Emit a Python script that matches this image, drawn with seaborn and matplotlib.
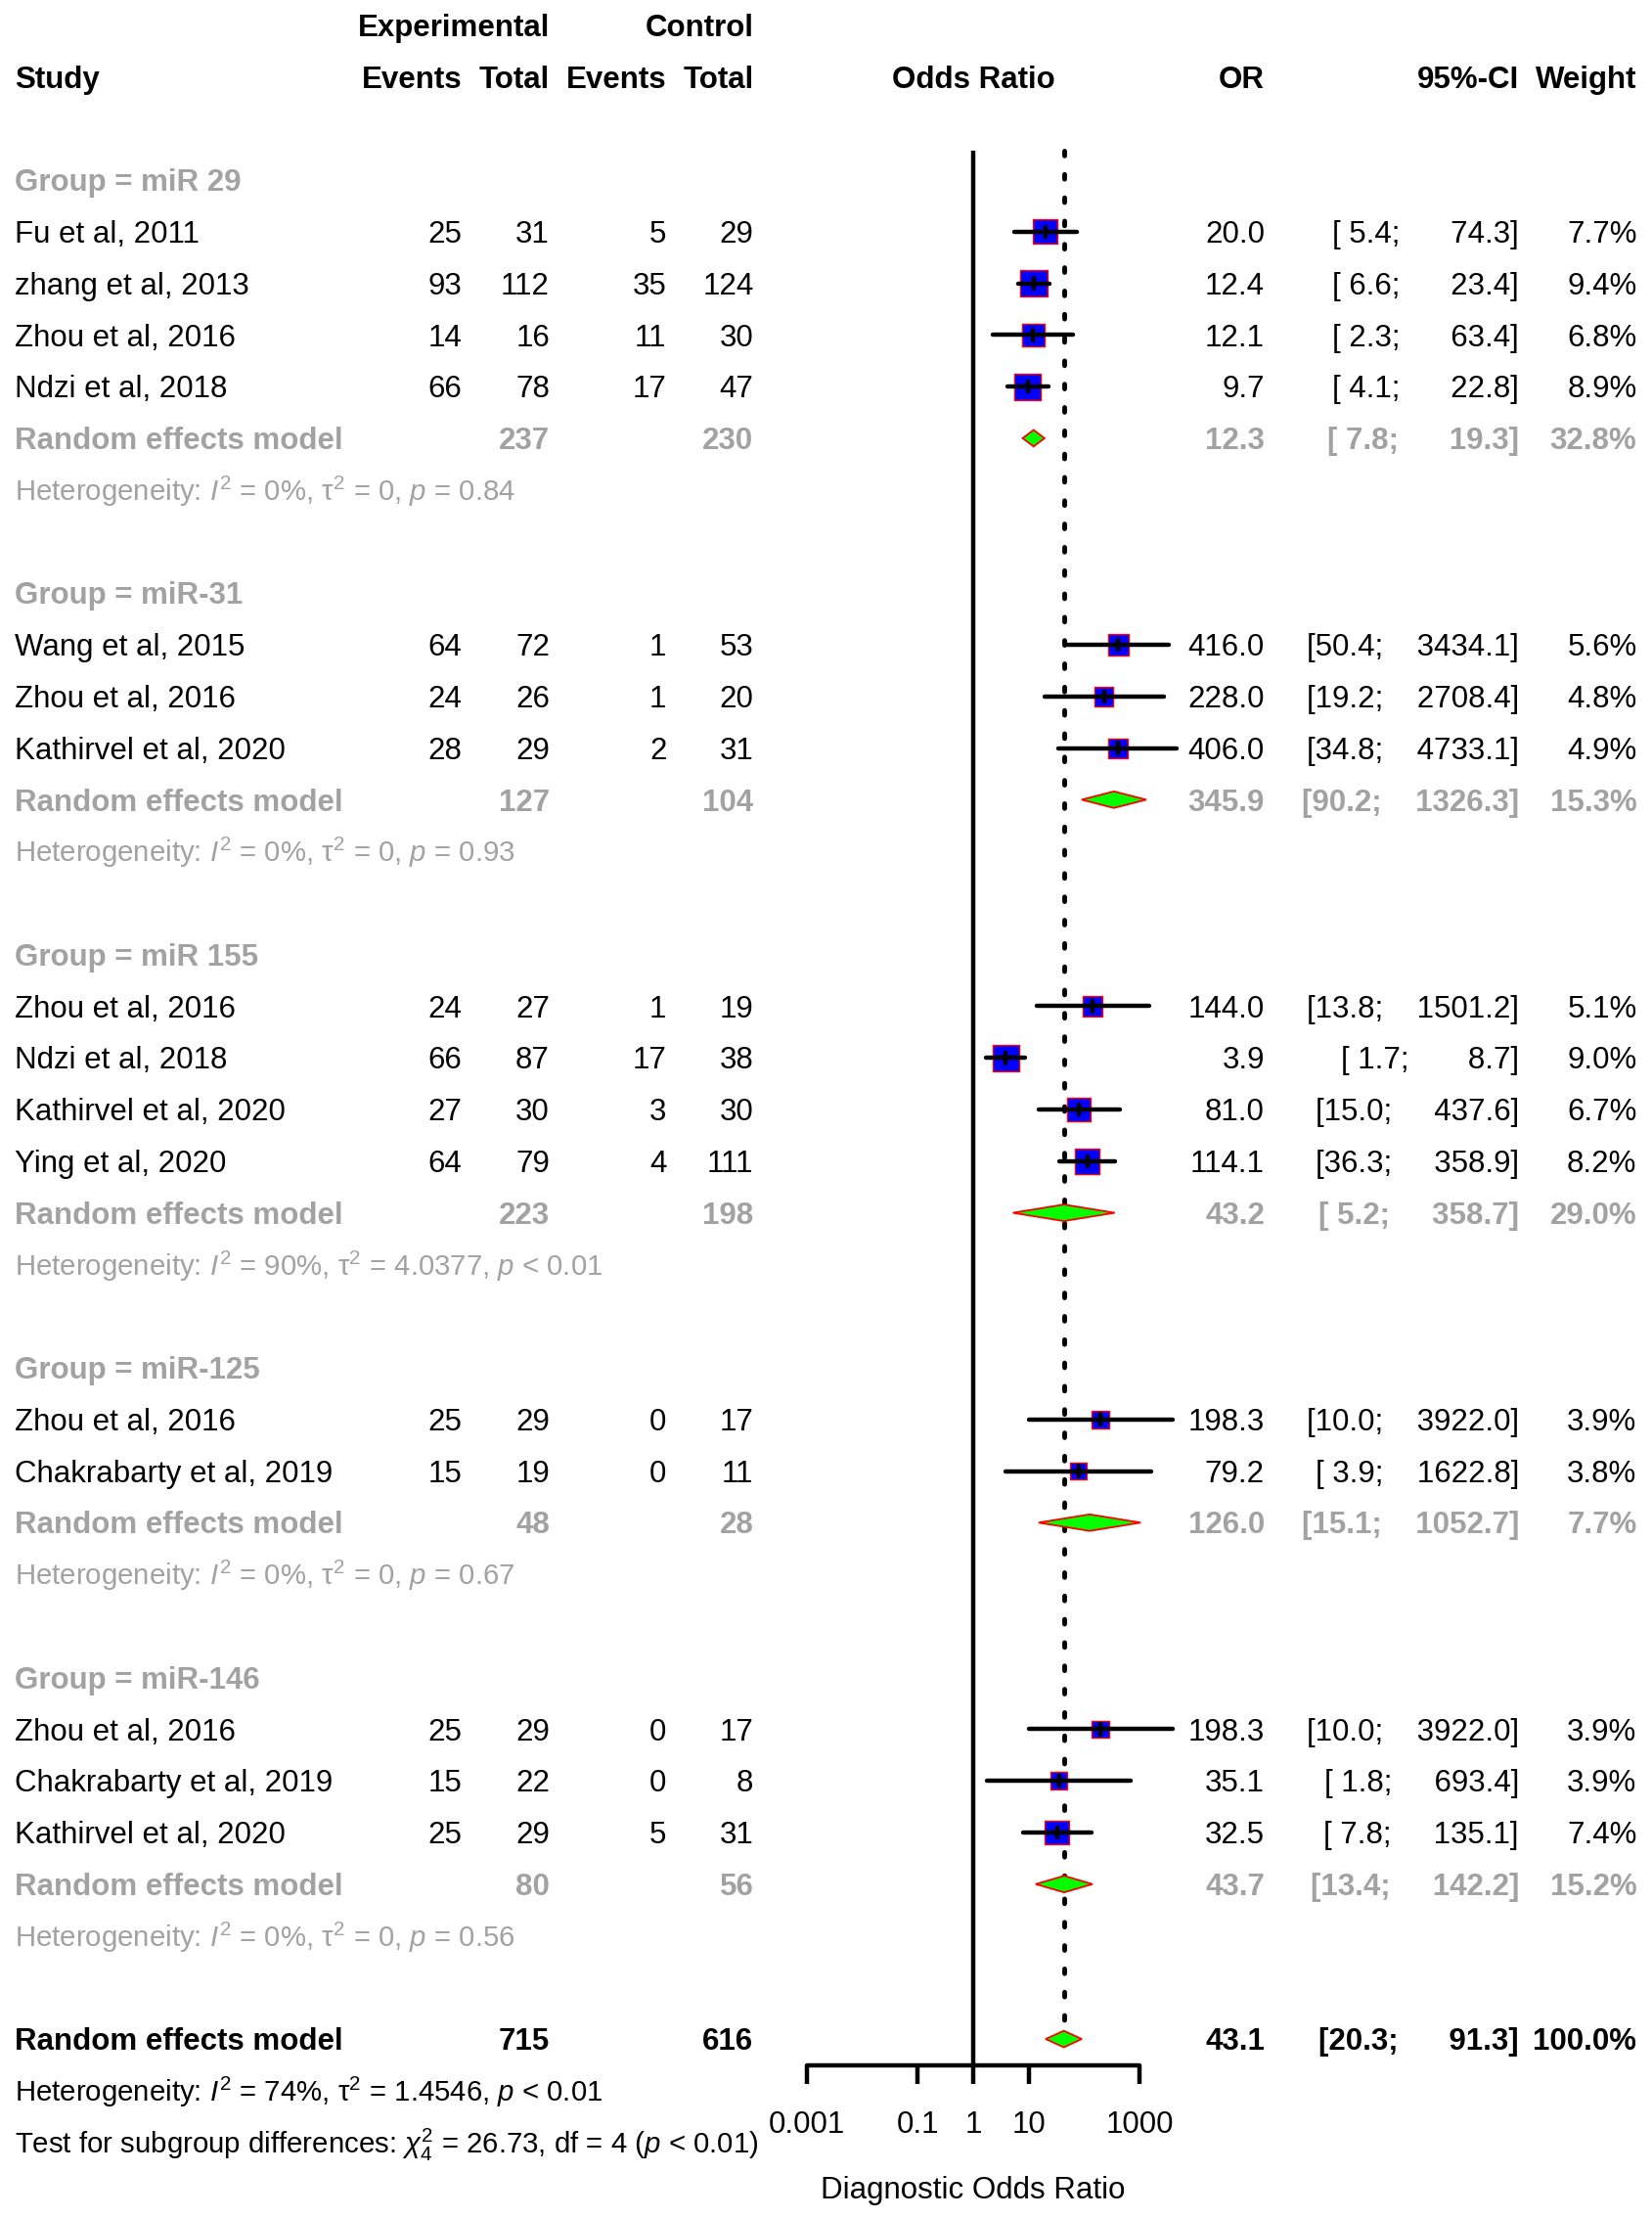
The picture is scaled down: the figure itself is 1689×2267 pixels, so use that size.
import numpy as np
import pandas as pd
import matplotlib
matplotlib.use('Agg')
from matplotlib import pyplot as plt
from matplotlib.ticker import NullLocator
import seaborn as sns

sns.set_style('white')
plt.rcParams['font.family'] = ['Liberation Sans', 'DejaVu Sans']
plt.rcParams['mathtext.fontset'] = 'custom'
plt.rcParams['mathtext.rm'] = 'Liberation Sans'
plt.rcParams['mathtext.it'] = 'Liberation Sans:italic'
plt.rcParams['mathtext.bf'] = 'Liberation Sans:bold'
plt.rcParams['text.color'] = 'black'
plt.rcParams['xtick.color'] = 'black'
plt.rcParams['axes.edgecolor'] = 'black'

# ---- data -------------------------------------------------------------
groups = ['miR 29', 'miR-31', 'miR 155', 'miR-125', 'miR-146']

study = ['Fu et al, 2011', 'zhang et al, 2013', 'Zhou et al, 2016', 'Ndzi et al, 2018',
         'Wang et al, 2015', 'Zhou et al, 2016', 'Kathirvel et al, 2020',
         'Zhou et al, 2016', 'Ndzi et al, 2018', 'Kathirvel et al, 2020', 'Ying et al, 2020',
         'Zhou et al, 2016', 'Chakrabarty et al, 2019',
         'Zhou et al, 2016', 'Chakrabarty et al, 2019', 'Kathirvel et al, 2020']
study_group = [0, 0, 0, 0, 1, 1, 1, 2, 2, 2, 2, 3, 3, 4, 4, 4]
exp_events = [25, 93, 14, 66, 64, 24, 28, 24, 66, 27, 64, 25, 15, 25, 15, 25]
exp_total = [31, 112, 16, 78, 72, 26, 29, 27, 87, 30, 79, 29, 19, 29, 22, 29]
ctrl_events = [5, 35, 11, 17, 1, 1, 2, 1, 17, 3, 4, 0, 0, 0, 0, 5]
ctrl_total = [29, 124, 30, 47, 53, 20, 31, 19, 38, 30, 111, 17, 11, 17, 8, 31]
odds_ratio = [20.0, 12.4, 12.1, 9.7, 416.0, 228.0, 406.0, 144.0, 3.9, 81.0, 114.1,
              198.3, 79.2, 198.3, 35.1, 32.5]
ci_lower = [5.4, 6.6, 2.3, 4.1, 50.4, 19.2, 34.8, 13.8, 1.7, 15.0, 36.3,
            10.0, 3.9, 10.0, 1.8, 7.8]
ci_upper = [74.3, 23.4, 63.4, 22.8, 3434.1, 2708.4, 4733.1, 1501.2, 8.7, 437.6, 358.9,
            3922.0, 1622.8, 3922.0, 693.4, 135.1]
weight = [7.7, 9.4, 6.8, 8.9, 5.6, 4.8, 4.9, 5.1, 9.0, 6.7, 8.2, 3.9, 3.8, 3.9, 3.9, 7.4]

grp_exp_total = [237, 127, 223, 48, 80]
grp_ctrl_total = [230, 104, 198, 28, 56]
grp_or = [12.3, 345.9, 43.2, 126.0, 43.7]
grp_lower = [7.8, 90.2, 5.2, 15.1, 13.4]
grp_upper = [19.3, 1326.3, 358.7, 1052.7, 142.2]
grp_weight = [32.8, 15.3, 29.0, 7.7, 15.2]
grp_i2 = ['0', '0', '90', '0', '0']
grp_tau2 = ['0', '0', '4.0377', '0', '0']
grp_p = ['= 0.84', '= 0.93', '< 0.01', '= 0.67', '= 0.56']

all_exp_total = 715
all_ctrl_total = 616
all_or, all_lower, all_upper, all_weight = 43.1, 20.3, 91.3, 100.0
all_i2, all_tau2, all_p = '74', '1.4546', '< 0.01'
subgroup_test = r'Test for subgroup differences: $\chi^2_4$ = 26.73, df = 4 ($p$ < 0.01)'

x_ticks = [0.001, 0.1, 1, 10, 1000]
x_ticklabels = ['0.001', '0.1', '1', '10', '1000']

# ---- row layout -------------------------------------------------------
row_group, row_study, row_summary, row_het = [], [], [], []
r = 0
for g in range(len(groups)):
    row_group.append(r)
    r += 1
    for sg in study_group:
        if sg == g:
            row_study.append(r)
            r += 1
    row_summary.append(r)
    row_het.append(r + 1)
    r += 3
row_overall = r

df = pd.DataFrame({'study': study, 'row': row_study, 'OR': odds_ratio,
                   'lower': ci_lower, 'upper': ci_upper, 'weight': weight})

# ---- figure geometry (pixels) ----------------------------------------
W, H = 1689, 2267
ROW0, STEP = 184.0, 52.78
y_top = -ROW0 / STEP
y_bot = (H - ROW0) / STEP
BASE = 0.212          # baseline offset (rows) so that digits are centred on row
FS = 22.5
FS_MATH = 21.2        # mathtext lays out a little wider, shrink to match
GRAY = '#A2A2A2'
LW = 3.2

X_STUDY, X_EE, X_ET, X_CE, X_CT = 15, 472.5, 562, 681.5, 770.5
X_OR, X_CI, X_W = 1293, 1553, 1673.5
PX_LO, PX_HI = 825, 1165   # pixel positions of 0.001 and 1000

fig = plt.figure(figsize=(W / 100, H / 100), dpi=100)
ax_t = fig.add_axes([0, 0, 1, 1])
ax_t.set_xlim(0, W)
ax_t.set_ylim(y_bot, y_top)
ax_t.axis('off')

ax_f = fig.add_axes([PX_LO / W, 0, (PX_HI - PX_LO) / W, 1])
ax_f.set_facecolor('none')


def put(x, row, s, ha='right', bold=False, color='black', size=FS):
    ax_t.text(x, row + BASE, s, ha=ha, va='baseline', fontsize=size,
              fontweight='bold' if bold else 'normal', color=color)


def ci_text(lo, hi):
    return f'[{lo:4.1f};    {hi:6.1f}]'


def het_text(i2, tau2, p):
    return rf'Heterogeneity: $I^2$ = {i2}%, $\mathrm{{\tau}}^2$ = {tau2}, $p$ {p}'


# header
put(X_ET, -3, 'Experimental', bold=True)
put(X_CT, -3, 'Control', bold=True)
put(X_STUDY, -2, 'Study', ha='left', bold=True)
for x, s in zip([X_EE, X_ET, X_CE, X_CT], ['Events', 'Total', 'Events', 'Total']):
    put(x, -2, s, bold=True)
put(X_OR, -2, 'OR', bold=True)
put(X_CI, -2, '95%-CI', bold=True)
put(X_W, -2, 'Weight', bold=True)
ax_f.text(1, -2 + BASE, 'Odds Ratio', ha='center', va='baseline', fontsize=FS,
          fontweight='bold')

# studies
for i in range(len(study)):
    rr = row_study[i]
    put(X_STUDY, rr, study[i], ha='left')
    put(X_EE, rr, str(exp_events[i]))
    put(X_ET, rr, str(exp_total[i]))
    put(X_CE, rr, str(ctrl_events[i]))
    put(X_CT, rr, str(ctrl_total[i]))
    put(X_OR, rr, f'{odds_ratio[i]:.1f}')
    put(X_CI, rr, ci_text(ci_lower[i], ci_upper[i]))
    put(X_W, rr, f'{weight[i]:.1f}%')

# subgroups
for g in range(len(groups)):
    put(X_STUDY, row_group[g], f'Group = {groups[g]}', ha='left', bold=True, color=GRAY)
    rs = row_summary[g]
    put(X_STUDY, rs, 'Random effects model', ha='left', bold=True, color=GRAY)
    put(X_ET, rs, str(grp_exp_total[g]), bold=True, color=GRAY)
    put(X_CT, rs, str(grp_ctrl_total[g]), bold=True, color=GRAY)
    put(X_OR, rs, f'{grp_or[g]:.1f}', bold=True, color=GRAY)
    put(X_CI, rs, ci_text(grp_lower[g], grp_upper[g]), bold=True, color=GRAY)
    put(X_W, rs, f'{grp_weight[g]:.1f}%', bold=True, color=GRAY)
    put(X_STUDY, row_het[g], het_text(grp_i2[g], grp_tau2[g], grp_p[g]),
        ha='left', color=GRAY, size=FS_MATH)

# overall
put(X_STUDY, row_overall, 'Random effects model', ha='left', bold=True)
put(X_ET, row_overall, str(all_exp_total), bold=True)
put(X_CT, row_overall, str(all_ctrl_total), bold=True)
put(X_OR, row_overall, f'{all_or:.1f}', bold=True)
put(X_CI, row_overall, ci_text(all_lower, all_upper), bold=True)
put(X_W, row_overall, f'{all_weight:.1f}%', bold=True)
put(X_STUDY, row_overall + 1, het_text(all_i2, all_tau2, all_p), ha='left', size=FS_MATH)
put(X_STUDY, row_overall + 2, subgroup_test, ha='left', size=FS_MATH)

# ---- forest panel -----------------------------------------------------
axis_row = row_overall + 0.51
top_row = -0.57
ax_f.set_xscale('log')

# reference lines
ax_f.plot([1, 1], [top_row, axis_row], color='black', lw=LW, zorder=1,
          solid_capstyle='butt', clip_on=False)
ax_f.plot([all_or, all_or], [top_row, row_overall - 0.2], color='black', lw=LW + 0.3,
          linestyle=(0, (1.0, 3.9)), dash_capstyle='round', zorder=1, clip_on=False)

# study squares (area proportional to weight)
sns.scatterplot(data=df, x='OR', y='row', size='weight', sizes=(0, 420), size_norm=(0, 10),
                marker='s', color='blue', edgecolor='red', linewidth=1.0, legend=False,
                ax=ax_f, zorder=3, clip_on=False)
ax_f.hlines(df['row'], df['lower'], df['upper'], colors='black', lw=LW,
            capstyle='round', zorder=4, clip_on=False)
ax_f.vlines(df['OR'], df['row'] - 0.1, df['row'] + 0.1, colors='black', lw=LW,
            capstyle='round', zorder=4, clip_on=False)

# diamonds
dh = 0.16
for lo, mid, hi, rr in zip(grp_lower + [all_lower], grp_or + [all_or],
                           grp_upper + [all_upper], row_summary + [row_overall]):
    ax_f.fill([lo, mid, hi, mid], [rr, rr - dh, rr, rr + dh], facecolor='#00FF00',
              edgecolor='red', lw=1.3, zorder=3, clip_on=False)

ax_f.set_xlim(x_ticks[0], x_ticks[-1])
ax_f.set_ylim(y_bot, y_top)
ax_f.set_xticks(x_ticks, labels=x_ticklabels)
ax_f.xaxis.set_minor_locator(NullLocator())
ax_f.set_yticks([])
ax_f.set_xlabel('')
ax_f.set_ylabel('')
ax_f.tick_params(axis='x', which='major', bottom=True, direction='out', length=13.7,
                 width=LW, pad=19.4, labelsize=FS, colors='black')
for side in ['left', 'right', 'top']:
    ax_f.spines[side].set_visible(False)
ax_f.spines['bottom'].set_position(('data', axis_row))
ax_f.spines['bottom'].set_linewidth(LW)
ax_f.spines['bottom'].set_capstyle('round')
ax_f.text(1, row_overall + 3.09, 'Diagnostic Odds Ratio', ha='center', va='baseline',
          fontsize=FS)

fig.savefig('out.png', dpi=100)
